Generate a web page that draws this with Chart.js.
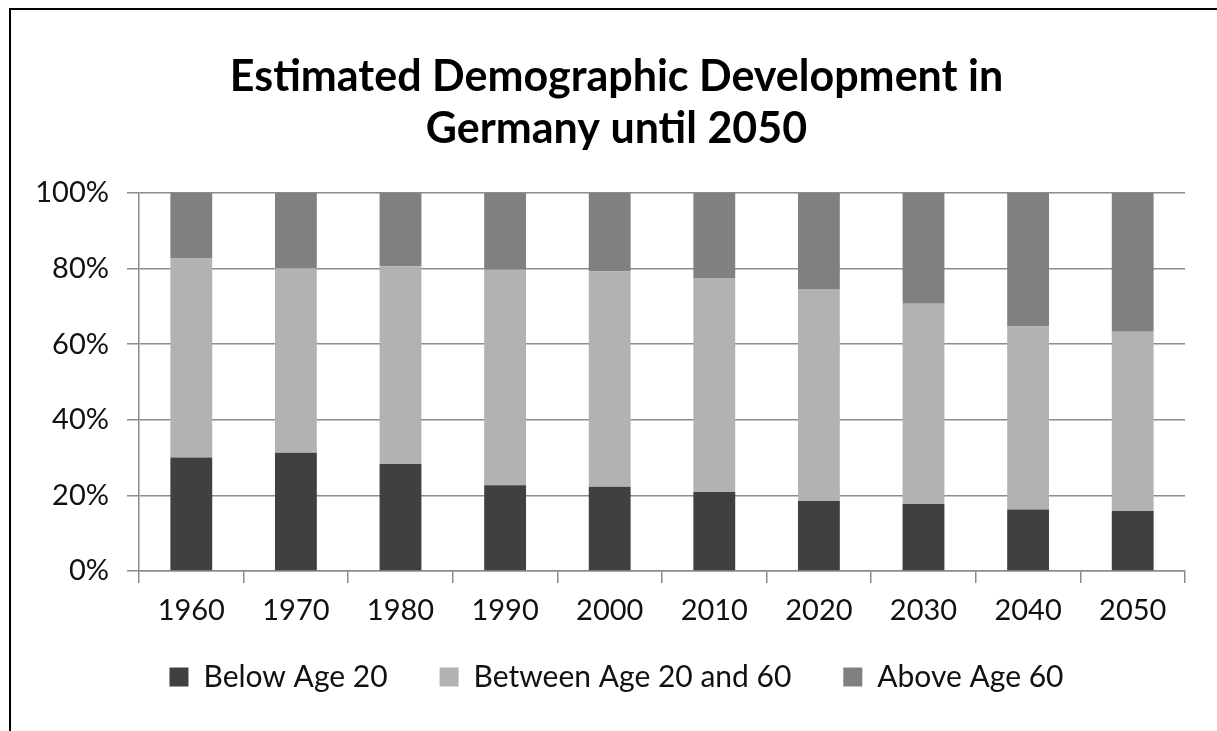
<!DOCTYPE html>
<html>
<head>
<meta charset="utf-8">
<script src="https://cdn.jsdelivr.net/npm/chart.js@4"></script>
<style>
  html, body { margin: 0; padding: 0; background: #fff; }
  #wrap { position: relative; width: 1217px; height: 731px; overflow: hidden; }
  #frame {
    position: absolute; left: 9px; top: 8px; right: -10px; bottom: -10px;
    border-top: 2px solid #000; border-left: 2px solid #000;
  }
  #myChart { position: absolute; left: 0; top: 0; }
</style>
</head>
<body>
<div id="wrap">
  <div id="frame"></div>
  <canvas id="myChart" width="1217" height="731"></canvas>
</div>
<script>
const years = ['1960', '1970', '1980', '1990', '2000', '2010', '2020', '2030', '2040', '2050'];
const belowAge20 = [30.0, 31.3, 28.3, 22.7, 22.3, 20.9, 18.5, 17.7, 16.3, 15.9];
const betweenAge20And60 = [52.7, 48.8, 52.3, 57.0, 56.9, 56.6, 56.1, 53.0, 48.4, 47.4];
const aboveAge60 = [17.3, 19.9, 19.4, 20.3, 20.8, 22.5, 25.4, 29.3, 35.3, 36.7];
const percentTicks = [0, 20, 40, 60, 80, 100];

const font = 'Lato, "Open Sans", sans-serif';
const gridColor = '#8c8c8c';

// legend items sit this far below the top of the legend box; the larger
// labels.padding only widens the gaps between the items
const legendGap = 34;
const raiseLegend = {
  id: 'raiseLegend',
  afterLayout(chart) {
    const legend = chart.legend;
    const shift = legend.options.labels.padding - legendGap;
    legend.top -= shift;
    legend.height += shift;
  },
};

const ctx = document.getElementById('myChart');

new Chart(ctx, {
  type: 'bar',
  data: {
    labels: years,
    datasets: [
      { label: 'Below Age 20', data: belowAge20, backgroundColor: '#404040' },
      { label: 'Between Age 20 and 60', data: betweenAge20And60, backgroundColor: '#b2b2b2' },
      { label: 'Above Age 60', data: aboveAge60, backgroundColor: '#808080' },
    ],
  },
  options: {
    responsive: false,
    animation: false,
    devicePixelRatio: 1,
    layout: { padding: { left: 16, right: 0, top: 0, bottom: 17 } },
    datasets: {
      bar: { barPercentage: 0.4, categoryPercentage: 1.0, borderWidth: 0 },
    },
    scales: {
      x: {
        stacked: true,
        offset: true,
        grid: { drawOnChartArea: false, drawTicks: true, tickLength: 12, color: gridColor, lineWidth: 1.5 },
        border: { color: gridColor, width: 1.5 },
        ticks: { color: '#111', padding: 10, maxRotation: 0, autoSkip: false, font: { family: font, size: 29 } },
        afterFit: (scale) => { scale.height = 57; },
      },
      y: {
        stacked: true,
        min: 0,
        max: 100,
        afterBuildTicks: (scale) => { scale.ticks = percentTicks.map((v) => ({ value: v })); },
        grid: { color: gridColor, lineWidth: 1.5, tickLength: 12 },
        border: { color: gridColor, width: 1.5 },
        ticks: {
          color: '#111',
          padding: 18,
          font: { family: font, size: 29 },
          callback: (v) => v + '%',
        },
        afterFit: (scale) => { scale.width = 123; },
      },
      // empty strip on the right so the plot ends short of the frame
      rightGutter: {
        type: 'linear',
        position: 'right',
        display: true,
        grid: { drawOnChartArea: false, drawTicks: false },
        border: { display: false },
        ticks: { display: false },
        afterFit: (scale) => { scale.width = 32; },
      },
    },
    plugins: {
      title: {
        display: true,
        text: ['Estimated Demographic Development in', 'Germany until 2050'],
        color: '#000',
        font: { family: font, size: 43, weight: 'bold', lineHeight: '52px' },
        padding: { top: 51, bottom: 38 },
      },
      legend: {
        position: 'bottom',
        maxHeight: 86,
        labels: {
          color: '#111',
          boxWidth: 19,
          boxHeight: 19,
          padding: 52,
          font: { family: font, size: 30 },
        },
      },
      tooltip: { enabled: false },
    },
  },
  plugins: [raiseLegend],
});
</script>
</body>
</html>
